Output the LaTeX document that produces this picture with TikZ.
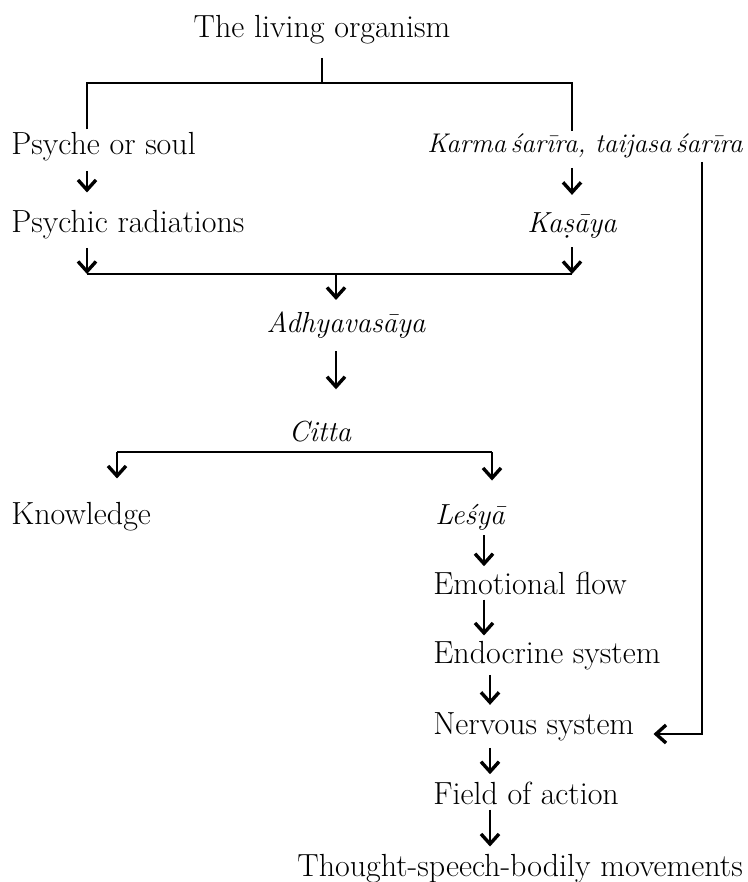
\documentclass[tikz,border=0pt]{standalone}
\usepackage{fontspec}
\usetikzlibrary{arrows.meta}
\begin{document}
\begin{tikzpicture}[x=0.5pt, y=-0.5pt, line width=1.3pt,
    every node/.style={inner sep=1pt, font=\fontsize{16}{18}\selectfont},
    it/.style={font=\fontsize{14.5}{17}\selectfont\itshape},
    arr/.style={-{Straight Barb[length=5pt, width=9pt, line width=1.7pt]}, shorten >=2pt}]
    \useasboundingbox (0,0) rectangle (748,882);
    \node[anchor=base] (org) at (322,38) {The living organism};
    \node[anchor=base west] (psyche) at (8,155) {Psyche or soul};
    \node[anchor=base east, it, font=\fontsize{13.5}{16}\selectfont\itshape] (karma) at (746,153) {Karma\,śarīra, taijasa\,śarīra};
    \node[anchor=base west] (radiation) at (8,232) {Psychic radiations};
    \node[anchor=base, it] (kasaya) at (572,232) {Kaṣāya};
    \node[anchor=base, it] (adhy) at (346,332) {Adhyavasāya};
    \node[anchor=base, it] (citta) at (320,441) {Citta};
    \node[anchor=base west] (know) at (8,524) {Knowledge};
    \node[anchor=base west, it] (lesya) at (432,524) {Leśyā};
    \node[anchor=base west] (emo) at (430,594) {Emotional flow};
    \node[anchor=base west] (endo) at (430,663) {Endocrine system};
    \node[anchor=base west] (nerv) at (430,734) {Nervous system};
    \node[anchor=base west] (field) at (430,804) {Field of action};
    \node[anchor=base east] (thought) at (746,876) {\addfontfeature{LetterSpace=3}Thought-speech-bodily movements};
    \coordinate (barL) at (87,83);
    \coordinate (barR) at (572,83);
    \coordinate (join) at (336,274);
    \coordinate (cL) at (117,452);
    \coordinate (cR) at (492,452);
    \coordinate (axis) at (484,0);
    \coordinate (axisb) at (490,0);
    \coordinate (fb) at (702,0);
    \draw[shorten <=5pt] (org.south) -- (org.south |- barL);
    \draw (barL |- psyche.north) -- (barL) -- (barR) -- (barR |- karma.north);
    \draw[arr, shorten <=3pt, shorten >=7pt] (psyche.south -| barL) -- (radiation.north -| barL);
    \draw[arr, shorten <=3pt, shorten >=7pt] (karma.south -| kasaya) -- (kasaya.north);
    \draw[arr, shorten <=3pt, shorten >=0pt] (radiation.south -| barL) -- (join -| barL);
    \draw[arr, shorten <=3pt, shorten >=0pt] (kasaya.south) -- (join -| kasaya);
    \draw (join -| barL) -- (join -| kasaya);
    \draw[arr, shorten >=4pt] (join) -- (adhy.north -| join);
    \draw[arr, shorten <=5pt, shorten >=14pt] (adhy.south -| join) -- (citta.north -| join);
    \draw (cL) -- (cR);
    \draw[arr, shorten >=10pt] (cL) -- (cL |- know.north);
    \draw[arr, shorten >=10pt] (cR) -- (lesya.north -| cR);
    \draw[arr, shorten <=1pt, shorten >=1pt] (lesya.south -| axis) -- (emo.north -| axis);
    \draw[arr, shorten <=1pt, shorten >=1pt] (emo.south -| axis) -- (endo.north -| axis);
    \draw[arr, shorten <=1pt, shorten >=2pt] (endo.south -| axisb) -- (nerv.north -| axisb);
    \draw[arr, shorten <=2pt, shorten >=2pt] (nerv.south -| axisb) -- (field.north -| axisb);
    \draw[arr, shorten <=1pt, shorten >=2pt] (field.south -| axisb) -- (thought.north -| axisb);
    \draw[arr, shorten >=8pt] (karma.south -| fb) |- (nerv.base east);
\end{tikzpicture}
\end{document}
